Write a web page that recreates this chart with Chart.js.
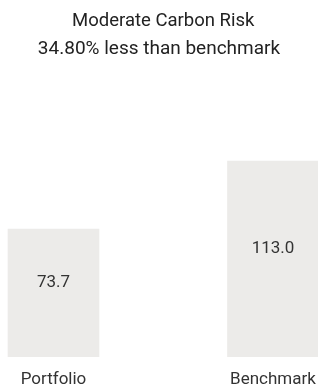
<!DOCTYPE html>
<html>
<head>
<meta charset="utf-8">
<script src="https://cdn.jsdelivr.net/npm/chart.js@4"></script>
<style>
  html, body { margin: 0; padding: 0; background: #fff; }
  #wrap { width: 318px; height: 385px; }
</style>
</head>
<body>
<div id="wrap"><canvas id="carbonChart"></canvas></div>
<script>
// dữ liệu biểu đồ
const categories = ['Portfolio', 'Benchmark'];
const intensity = [73.7, 113.0];
const titleText = 'Moderate Carbon Risk';
const subtitleText = '34.80% less than benchmark';

// vẽ số liệu bên trong cột + dòng phụ đề
const valueLabels = {
  id: 'valueLabels',
  afterDatasetsDraw(chart) {
    const ctx = chart.ctx;
    const meta = chart.getDatasetMeta(0);
    ctx.save();
    ctx.font = '17px Roboto';
    ctx.fillStyle = '#333';
    ctx.textAlign = 'center';
    ctx.textBaseline = 'middle';
    meta.data.forEach((bar, i) => {
      const mid = (bar.y + bar.base) / 2 - 10;
      ctx.fillText(intensity[i].toFixed(1), bar.x, mid);
    });

    // phụ đề
    ctx.font = '19px Roboto';
    ctx.fillStyle = '#222';
    ctx.fillText(subtitleText, chart.width / 2, 49);
    ctx.restore();
  }
};

new Chart(document.getElementById('carbonChart'), {
  type: 'bar',
  data: {
    labels: categories,
    datasets: [{
      data: intensity,
      backgroundColor: '#ecebe9',
      barThickness: 91,
      clip: false
    }]
  },
  options: {
    responsive: true,
    maintainAspectRatio: false,
    animation: false,
    layout: { padding: { left: 53.5, right: 45, top: 0, bottom: -18 } },
    plugins: {
      legend: { display: false },
      tooltip: { enabled: false },
      title: {
        display: true,
        text: titleText,
        color: '#222',
        font: { family: 'Roboto', size: 18.5, weight: 'normal', lineHeight: 1.51 },
        padding: { top: 7, bottom: 114 }
      }
    },
    scales: {
      x: {
        offset: false,
        grid: { display: false, drawTicks: false },
        border: { display: false },
        ticks: {
          color: '#333',
          font: { family: 'Roboto', size: 17 },
          padding: 13,
          maxRotation: 0
        },
        afterFit(scale) {
          // bỏ phần đệm tự động cho nhãn
          scale.paddingLeft = 0;
          scale.paddingRight = 0;
        }
      },
      y: {
        display: false,
        min: 0,
        max: 120
      }
    }
  },
  plugins: [valueLabels]
});
</script>
</body>
</html>
